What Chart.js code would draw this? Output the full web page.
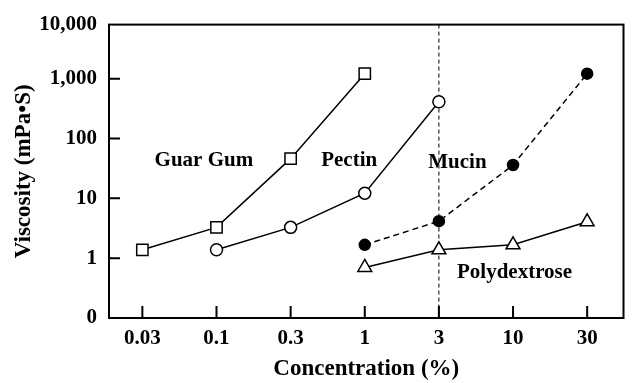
<!DOCTYPE html>
<html><head><meta charset="utf-8">
<script src="https://cdn.jsdelivr.net/npm/chart.js@4.4.0/dist/chart.umd.min.js"></script>
<style>html,body{margin:0;padding:0;background:#fff}#wrap{width:633px;height:383px}</style>
</head><body><div id="wrap"><canvas id="c" width="633" height="383"></canvas></div>
<script>
const concentrations = ['0.03', '0.1', '0.3', '1', '3', '10', '30'];
const guarGum      = [1.38, 3.27, 46, 1210, null, null, null];
const pectin       = [null, 1.38, 3.27, 12.2, 410, null, null];
const mucin        = [null, null, null, 1.67, 4.15, 36, 1210];
const polydextrose = [null, null, null, 0.70, 1.38, 1.67, 4.05];
const yTickValues = [0.1, 1, 10, 100, 1000, 10000];
const yTickLabels = ['0', '1', '10', '100', '1,000', '10,000'];
const seriesNames = ['Guar Gum', 'Pectin', 'Mucin', 'Polydextrose'];
const dividerConcentration = '3';

const FONT = "'Liberation Serif', 'Times New Roman', serif";
const Y_MAX = 8000;

function toPoints(arr) {
  return arr.map((v, i) => ({ x: i, y: v }));
}

const labelPlacement = [
  { x: 0.83, y: 43 },
  { x: 2.79, y: 43 },
  { x: 4.25, y: 40 },
  { x: 5.02, y: 0.58 }
];

const framePlugin = {
  id: 'frame',
  beforeDatasetsDraw(chart) {
    const { ctx, chartArea: a, scales: { x } } = chart;
    const px = x.getPixelForValue(concentrations.indexOf(dividerConcentration));
    ctx.save();
    ctx.strokeStyle = '#000';
    ctx.lineWidth = 1;
    ctx.setLineDash([4, 3]);
    ctx.beginPath();
    ctx.moveTo(px, a.top);
    ctx.lineTo(px, a.bottom);
    ctx.stroke();
    ctx.restore();
  },
  afterDatasetsDraw(chart) {
    const { ctx, chartArea: a, scales: { x, y } } = chart;
    ctx.save();
    ctx.strokeStyle = '#000';
    ctx.lineWidth = 2;
    ctx.strokeRect(a.left, a.top, a.right - a.left, a.bottom - a.top);
    ctx.beginPath();
    concentrations.forEach((c, i) => {
      const px = x.getPixelForValue(i);
      ctx.moveTo(px, a.bottom);
      ctx.lineTo(px, a.bottom - 12);
    });
    yTickValues.forEach(v => {
      if (v <= y.min || v >= Y_MAX) return;
      const py = y.getPixelForValue(v);
      ctx.moveTo(a.left, py);
      ctx.lineTo(a.left + 11, py);
    });
    ctx.stroke();
    ctx.fillStyle = '#000';
    ctx.font = "bold 21px " + FONT;
    ctx.textAlign = 'center';
    ctx.textBaseline = 'middle';
    seriesNames.forEach((n, i) => {
      const p = labelPlacement[i];
      ctx.fillText(n, x.getPixelForValue(p.x), y.getPixelForValue(p.y));
    });
    ctx.restore();
  }
};

const common = {
  borderColor: '#000',
  borderWidth: 1.5,
  pointBorderColor: '#000',
  pointBorderWidth: 1.5,
  pointBackgroundColor: '#fff',
  fill: false,
  tension: 0,
  spanGaps: true
};

new Chart(document.getElementById('c'), {
  type: 'line',
  data: {
    datasets: [
      Object.assign({}, common, { label: seriesNames[0], data: toPoints(guarGum), pointStyle: 'rect', pointRadius: 8 }),
      Object.assign({}, common, { label: seriesNames[1], data: toPoints(pectin), pointStyle: 'circle', pointRadius: 6 }),
      Object.assign({}, common, { label: seriesNames[2], data: toPoints(mucin), pointStyle: 'circle', pointRadius: 5.5, pointBackgroundColor: '#000', borderDash: [6, 4] }),
      Object.assign({}, common, { label: seriesNames[3], data: toPoints(polydextrose), pointStyle: 'triangle', pointRadius: 8 })
    ]
  },
  options: {
    responsive: false,
    animation: false,
    devicePixelRatio: 1,
    layout: { padding: { top: 20, right: 3, left: 0, bottom: 0 } },
    plugins: { legend: { display: false }, tooltip: { enabled: false } },
    scales: {
      x: {
        type: 'linear',
        min: -0.45,
        max: 6.49,
        afterBuildTicks: s => { s.ticks = concentrations.map((_, i) => ({ value: i })); },
        afterFit: s => { s.height = 65; },
        ticks: {
          callback: v => concentrations[v],
          font: { family: FONT, size: 21, weight: 'bold' },
          color: '#000',
          padding: 8,
          maxRotation: 0,
          autoSkip: false
        },
        grid: { display: false, drawTicks: false },
        border: { display: false },
        title: {
          display: true,
          text: 'Concentration (%)',
          font: { family: FONT, size: 23, weight: 'bold' },
          color: '#000',
          padding: { top: 0, bottom: 0 }
        }
      },
      y: {
        type: 'logarithmic',
        min: 0.1,
        max: Y_MAX,
        afterBuildTicks: s => { s.ticks = yTickValues.map(v => ({ value: Math.min(v, Y_MAX) })); },
        afterFit: s => { s.width = 109; },
        ticks: {
          callback: (v, i) => yTickLabels[i],
          font: { family: FONT, size: 21, weight: 'bold' },
          color: '#000',
          padding: 12,
          autoSkip: false
        },
        grid: { display: false, drawTicks: false },
        border: { display: false },
        title: {
          display: true,
          text: 'Viscosity (mPa•S)',
          font: { family: FONT, size: 23, weight: 'bold' },
          color: '#000',
          padding: { top: 10, bottom: 0 }
        }
      }
    }
  },
  plugins: [framePlugin]
});
</script>
</body></html>
